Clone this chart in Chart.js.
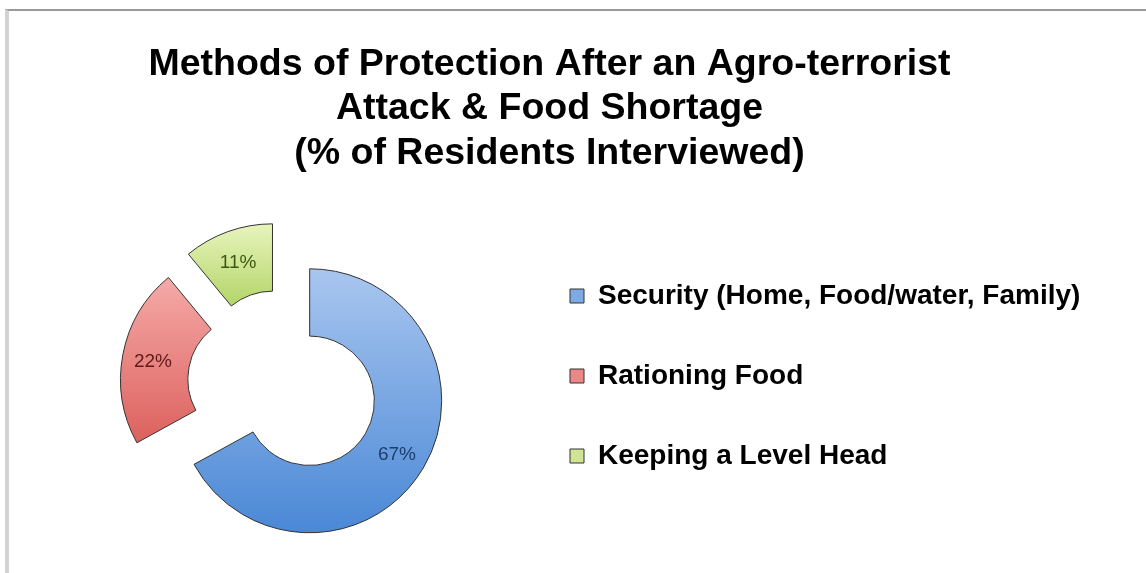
<!DOCTYPE html>
<html>
<head>
<meta charset="utf-8">
<script src="https://cdn.jsdelivr.net/npm/chart.js@4.4.0/dist/chart.umd.min.js"></script>
<style>
  html, body { margin: 0; padding: 0; background: #fff; }
  /* grey frame visible along top and left of the original screenshot */
  #frame { position: absolute; left: 5px; top: 9px; width: 1141px; height: 564px;
           border-top: 2px solid #9a9a9a; border-left: 4px solid #d3d3d3; box-sizing: border-box; }
  #wrap { position: absolute; left: 0; top: 0; width: 1146px; height: 573px; }
</style>
</head>
<body>
<div id="frame"></div>
<div id="wrap"><canvas id="myChart" width="1146" height="573"></canvas></div>
<script>
// data
const titleLines = [
  "Methods of Protection After an Agro-terrorist",
  "Attack & Food Shortage",
  "(% of Residents Interviewed)"
];
const categories = [
  "Security (Home, Food/water, Family)",
  "Rationing Food",
  "Keeping a Level Head"
];
const values = [67, 22, 11];

// colours
const topColors = ["#a9c6ef", "#f5aaa8", "#e8f4bc"];
const bottomColors = ["#4a88d6", "#dc615d", "#b3d568"];
const solidColors = ["#7eaae4", "#eb8784", "#cfe595"];
const labelColors = ["#1d3f6e", "#5e1a19", "#3c5912"];

const fontFamily = '"Liberation Sans", Arial, sans-serif';
const sliceGap = 31; // exploded distance of each slice

// vertical gradient over each slice, from its top to its bottom
function sliceFill(context) {
  if (context.type !== "data") return solidColors[0];
  const i = context.dataIndex;
  const chart = context.chart;
  const ctrl = chart.getDatasetMeta(0).controller;
  const area = chart.chartArea;
  if (!area || !ctrl || !ctrl.outerRadius) return solidColors[i];
  const total = values.reduce((a, b) => a + b, 0);
  const before = values.slice(0, i).reduce((a, b) => a + b, 0);
  const a0 = -Math.PI / 2 + (before / total) * 2 * Math.PI;
  const a1 = a0 + (values[i] / total) * 2 * Math.PI;
  const mid = (a0 + a1) / 2;
  const cy = (area.top + area.bottom) / 2 + Math.sin(mid) * sliceGap;
  let lo = Infinity, hi = -Infinity;
  for (let s = 0; s <= 60; s++) {
    const a = a0 + ((a1 - a0) * s) / 60;
    [ctrl.innerRadius, ctrl.outerRadius].forEach(function (r) {
      const y = cy + Math.sin(a) * r;
      lo = Math.min(lo, y);
      hi = Math.max(hi, y);
    });
  }
  const g = chart.ctx.createLinearGradient(0, lo, 0, hi);
  g.addColorStop(0, topColors[i]);
  g.addColorStop(1, bottomColors[i]);
  return g;
}

// push every slice out along its middle angle (same distance for all)
const explodePlugin = {
  id: "explode",
  afterDatasetUpdate(chart, args) {
    chart.getDatasetMeta(args.index).data.forEach(function (arc) {
      const mid = (arc.startAngle + arc.endAngle) / 2;
      arc.x += Math.cos(mid) * sliceGap;
      arc.y += Math.sin(mid) * sliceGap;
    });
  }
};

// percentage text in the middle of each ring slice
const pctPlugin = {
  id: "pctLabels",
  afterDatasetsDraw(chart) {
    const ctx = chart.ctx;
    ctx.save();
    ctx.font = "19px " + fontFamily;
    ctx.textAlign = "center";
    ctx.textBaseline = "middle";
    chart.getDatasetMeta(0).data.forEach(function (arc, i) {
      const mid = (arc.startAngle + arc.endAngle) / 2;
      const r = (arc.innerRadius + arc.outerRadius) / 2 + 3;
      ctx.fillStyle = labelColors[i];
      ctx.fillText(values[i] + "%", arc.x + Math.cos(mid) * r, arc.y + Math.sin(mid) * r + 2);
    });
    ctx.restore();
  }
};

const data = {
  labels: categories,
  datasets: [{
    data: values,
    backgroundColor: sliceFill,
    borderColor: "#333333",
    borderWidth: 1,
    radius: 132,
    hoverOffset: 0
  }]
};

const config = {
  type: "doughnut",
  data: data,
  options: {
    responsive: false,
    animation: false,
    cutout: "49%",
    layout: { padding: { left: 9, right: 56, top: 0, bottom: 51 } },
    plugins: {
      title: {
        display: true,
        text: titleLines,
        color: "#000",
        font: { family: fontFamily, size: 37.5, weight: "bold", lineHeight: "44.5px" },
        padding: { top: 42, bottom: 72.5 }
      },
      legend: {
        position: "right",
        align: "end",
        maxWidth: 533,
        labels: {
          boxWidth: 14,
          boxHeight: 14,
          padding: 13,
          color: "#111",
          font: { family: fontFamily, size: 28, weight: "bold", lineHeight: 67 / 28 },
          generateLabels: function () {
            return categories.map(function (c, i) {
              return {
                text: [c],
                fillStyle: solidColors[i],
                strokeStyle: "#333333",
                lineWidth: 1,
                hidden: false,
                index: i
              };
            });
          }
        }
      },
      tooltip: { enabled: false }
    }
  },
  plugins: [explodePlugin, pctPlugin]
};

let context = document.getElementById("myChart").getContext("2d");
let chart = new Chart(context, config);
</script>
</body>
</html>
